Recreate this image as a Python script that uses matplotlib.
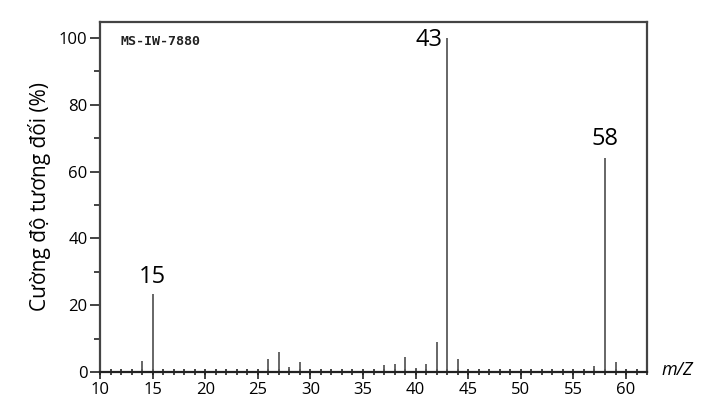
import numpy as np
import matplotlib.pyplot as plt
from matplotlib.ticker import MultipleLocator

# m/z peaks and relative intensities (%)
mz = [14, 15, 26, 27, 28, 29, 37, 38, 39, 40, 41, 42, 43, 44, 57, 58, 59]
intensity = [3.3, 23.5, 3.8, 6.0, 1.6, 3.1, 2.1, 2.4, 4.4, 1.2, 2.4, 9.0, 100, 3.8, 1.9, 64.0, 3.1]
labelled = {15: 23.5, 43: 100, 58: 64.0}

plt.rcParams['font.family'] = ['Open Sans', 'DejaVu Sans']
grey = "#5a5a5a"

fig = plt.figure(figsize=(7.23, 4.11), dpi=100)
ax = fig.add_axes([0.1383, 0.0949, 0.7567, 0.8516])

ax.vlines(mz, 0, intensity, color=grey, linewidth=1.3)

ax.set_xlim(10, 62)
ax.set_ylim(0, 104.8)

# peak labels
ax.text(15, labelled[15] + 1.5, "15", ha="center", va="bottom", fontsize=17)
ax.text(42.6, labelled[43] - 0.5, "43", ha="right", va="center", fontsize=17)
ax.text(58, labelled[58] + 2.2, "58", ha="center", va="bottom", fontsize=17)

ax.text(0.037, 0.945, "MS-IW-7880", transform=ax.transAxes, family="DejaVu Sans Mono",
        fontsize=9.6, fontweight="bold", color="#222222", va="center")
fig.text(0.915, 0.10, "m/Z", fontsize=13, style="italic", va="center")

ax.set_ylabel("Cường độ tương đối (%)", fontsize=15, labelpad=6)

ax.xaxis.set_major_locator(MultipleLocator(5))
ax.xaxis.set_minor_locator(MultipleLocator(1))
ax.xaxis.remove_overlapping_locs = False
ax.yaxis.set_major_locator(MultipleLocator(20))
ax.yaxis.set_minor_locator(MultipleLocator(10))

ax.tick_params(axis="x", which="major", direction="out", length=5, width=1.2, color="#222222",
               labelsize=12, pad=2)
ax.tick_params(axis="x", which="minor", direction="inout", length=5, width=1.2, color="#222222")
ax.tick_params(axis="y", which="major", direction="out", length=7, width=1.2, color="#222222",
               labelsize=12, pad=2)
ax.tick_params(axis="y", which="minor", direction="out", length=4, width=1.2, color="#222222")

for s in ax.spines.values():
    s.set_color("#444444")
    s.set_linewidth(1.6)
ax.spines["bottom"].set_color("#222222")

fig.savefig("out.png", dpi=100)
